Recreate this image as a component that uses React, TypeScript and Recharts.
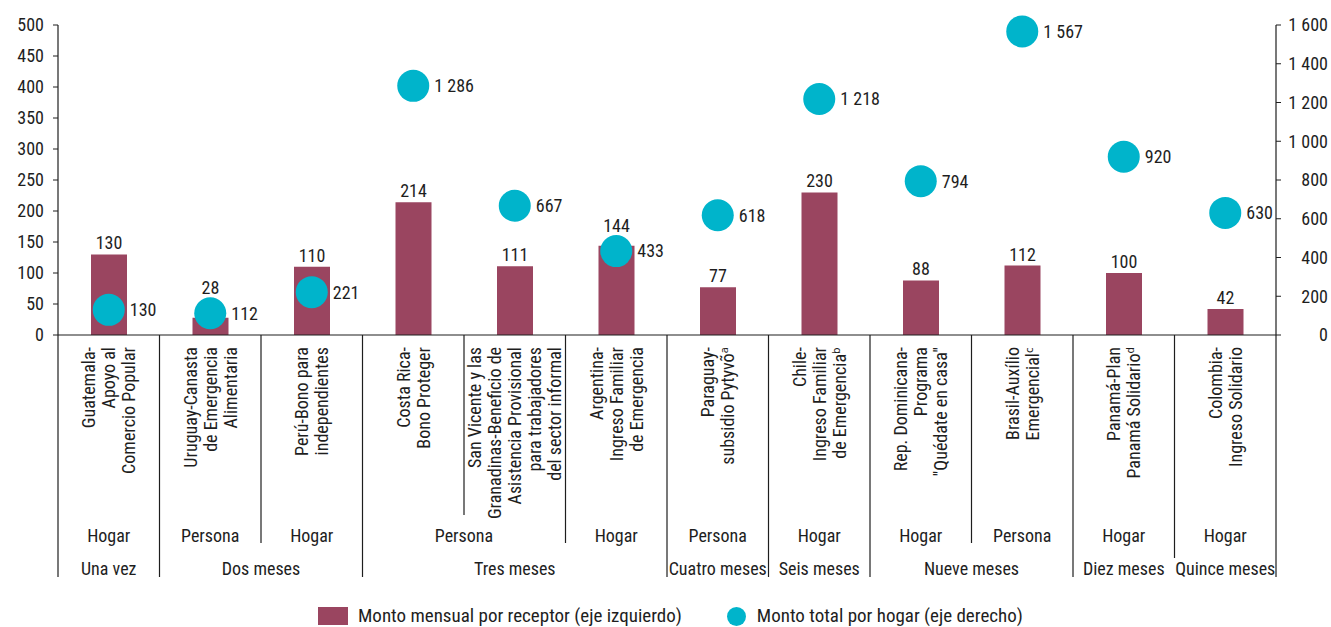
import React from "react";
import { ComposedChart, Bar, Line, XAxis, YAxis, Legend, LabelList } from "recharts";

const FONT = "'Liberation Sans Narrow', 'Roboto Condensed', 'DejaVu Sans Condensed', 'Liberation Sans', sans-serif";
const INK = "#1e1e1e";
const BAR_COLOR = "#9a4560";
const DOT_COLOR = "#00b4cb";
const DOT_R = 16;

// program names, one entry per rotated line
const programas = [
  ["Guatemala-", "Apoyo al", "Comercio Popular"],
  ["Uruguay-Canasta", "de Emergencia", "Alimentaria"],
  ["Perú-Bono para", "independientes"],
  ["Costa Rica-", "Bono Proteger"],
  ["San Vicente y las", "Granadinas-Beneficio de", "Asistencia Provisional", "para trabajadores", "del sector informal"],
  ["Argentina-", "Ingreso Familiar", "de Emergencia"],
  ["Paraguay-", "subsidio Pytyvõᵃ"],
  ["Chile-", "Ingreso Familiar", "de Emergenciaᵇ"],
  ["Rep. Dominicana-", "Programa", "\"Quédate en casa\""],
  ["Brasil-Auxílio", "Emergencialᶜ"],
  ["Panamá-Plan", "Panamá Solidarioᵈ"],
  ["Colombia-", "Ingreso Solidario"],
];

const receptor = ["Hogar", "Persona", "Hogar", "Persona", "Persona", "Hogar", "Persona", "Hogar", "Hogar", "Persona", "Hogar", "Hogar"];
const duracion = [
  "Una vez", "Dos meses", "Dos meses", "Tres meses", "Tres meses", "Tres meses",
  "Cuatro meses", "Seis meses", "Nueve meses", "Nueve meses", "Diez meses", "Quince meses",
];

const montoMensual = [130, 28, 110, 214, 111, 144, 77, 230, 88, 112, 100, 42];
const montoTotal = [130, 112, 221, 1286, 667, 433, 618, 1218, 794, 1567, 920, 630];

const ticksIzq = [0, 50, 100, 150, 200, 250, 300, 350, 400, 450, 500];
const ticksDer = [0, 200, 400, 600, 800, 1000, 1200, 1400, 1600];
const MAX_IZQ = 500;
const MAX_DER = 1600;

const data = programas.map((p, i) => ({
  programa: p.join(" "),
  mensual: montoMensual[i],
  total: montoTotal[i],
}));

const fmt = (v: number) => String(v).replace(/\B(?=(\d{3})+(?!\d))/g, " ");

// how far down the separator on the left of column i goes
function separatorLength(i: number) {
  if (i === 0) return 242;
  if (duracion[i] !== duracion[i - 1]) return i === 11 ? 223 : 242; // Diez|Quince stops short in the original
  if (receptor[i] !== receptor[i - 1]) return 208;
  return 180;
}

function runLength(i: number, byReceptor: boolean) {
  const same = (a: number, b: number) =>
    duracion[a] === duracion[b] && (!byReceptor || receptor[a] === receptor[b]);
  if (i > 0 && same(i, i - 1)) return 0;
  let k = 1;
  while (i + k < programas.length && same(i, i + k)) k++;
  return k;
}

function ProgramTick(props: any) {
  const { x, y, payload } = props;
  const i = payload.index;
  const half = payload.offset || 50.75;
  const lines = programas[i];
  const n = lines.length;
  const kRec = runLength(i, true);
  const kDur = runLength(i, false);
  const txt = { fontFamily: FONT, fontSize: 18, fill: INK };
  return (
    <g>
      <line x1={x - half} x2={x - half} y1={y} y2={y + separatorLength(i)} stroke={INK} strokeWidth={1.2} />
      {i === programas.length - 1 && (
        <line x1={x + half} x2={x + half} y1={y} y2={y + 242} stroke={INK} strokeWidth={1.2} />
      )}
      <g transform={`translate(${x}, ${y + 12}) rotate(-90)`}>
        {lines.map((l, j) => (
          <text key={j} x={0} y={(j - (n - 1) / 2) * 20} textAnchor="end" dominantBaseline="central" {...txt}>
            {l}
          </text>
        ))}
      </g>
      {kRec > 0 && (
        <text x={x + (kRec - 1) * half} y={y + 200} textAnchor="middle" dominantBaseline="central" {...txt}>
          {receptor[i]}
        </text>
      )}
      {kDur > 0 && (
        <text x={x + (kDur - 1) * half} y={y + 233} textAnchor="middle" dominantBaseline="central" {...txt}>
          {duracion[i]}
        </text>
      )}
    </g>
  );
}

function RightTick(props: any) {
  const { y, payload } = props;
  return (
    <text x={1328} y={y} dy="0.355em" textAnchor="end" fontFamily={FONT} fontSize={18} fill={INK}>
      {fmt(payload.value)}
    </text>
  );
}

// bar value above the bar; lifted above the dot when the dot would cover it
function BarValueLabel(props: any) {
  const { x, y, width, height, value, index } = props;
  const base = y + height;
  const pxPerUnit = value ? height / value : 0;
  const dotY = base - montoTotal[index] * (MAX_IZQ / MAX_DER) * pxPerUnit;
  let baseline = y - 5;
  if (dotY + DOT_R > baseline - 16 && dotY - DOT_R < baseline + 2) baseline = dotY - DOT_R - 3;
  return (
    <text x={x + width / 2} y={baseline} textAnchor="middle" fontFamily={FONT} fontSize={18} fill={INK}>
      {value}
    </text>
  );
}

function LegendContent() {
  return (
    <div
      style={{
        height: 47,
        paddingTop: 25,
        paddingLeft: 318,
        boxSizing: "border-box",
        display: "flex",
        justifyContent: "flex-start",
        alignItems: "center",
        fontFamily: FONT,
        fontSize: 19,
        color: INK,
        lineHeight: "22px",
        whiteSpace: "nowrap",
      }}
    >
      <span style={{ display: "inline-block", width: 30, height: 18, background: BAR_COLOR, marginRight: 10 }} />
      <span style={{ marginRight: 45 }}>Monto mensual por receptor (eje izquierdo)</span>
      <span style={{ display: "inline-block", width: 19, height: 19, borderRadius: "50%", background: DOT_COLOR, marginRight: 11 }} />
      <span>Monto total por hogar (eje derecho)</span>
    </div>
  );
}

export default function App() {
  return (
    <div style={{ position: "absolute", left: 0, top: 0, fontFamily: FONT }}>
      <ComposedChart width={1331} height={627} data={data} margin={{ top: 25, right: 0, bottom: 0, left: 0 }}>
        <XAxis
          dataKey="programa"
          interval={0}
          height={245}
          tickLine={false}
          tickSize={0}
          tickMargin={0}
          axisLine={{ stroke: INK, strokeWidth: 1.2 }}
          tick={<ProgramTick />}
        />
        <YAxis
          yAxisId="left"
          domain={[0, MAX_IZQ]}
          ticks={ticksIzq}
          width={58}
          tickSize={5}
          tickMargin={9}
          axisLine={{ stroke: INK, strokeWidth: 1.2 }}
          tickLine={{ stroke: INK }}
          tick={{ fill: INK, fontSize: 18, fontFamily: FONT }}
        />
        <YAxis
          yAxisId="right"
          orientation="right"
          domain={[0, MAX_DER]}
          ticks={ticksDer}
          width={55}
          tickSize={5}
          tickMargin={0}
          axisLine={{ stroke: INK, strokeWidth: 1.2 }}
          tickLine={{ stroke: INK }}
          tick={<RightTick />}
        />
        <Legend verticalAlign="bottom" content={<LegendContent />} />
        <Bar yAxisId="left" dataKey="mensual" fill={BAR_COLOR} barSize={36} isAnimationActive={false}>
          <LabelList dataKey="mensual" content={<BarValueLabel />} />
        </Bar>
        <Line
          yAxisId="right"
          dataKey="total"
          stroke="none"
          dot={{ r: DOT_R, fill: DOT_COLOR, stroke: "none" }}
          activeDot={false}
          isAnimationActive={false}
        >
          <LabelList dataKey="total" position="right" offset={21} fill={INK} fontSize={18} fontFamily={FONT} formatter={(v: any) => fmt(v)} />
        </Line>
      </ComposedChart>
    </div>
  );
}
